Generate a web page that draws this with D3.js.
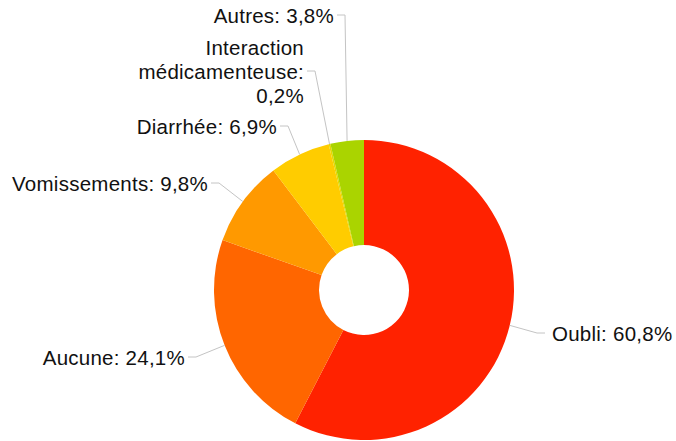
<!DOCTYPE html>
<html>
<head>
<meta charset="utf-8">
<script src="https://cdn.jsdelivr.net/npm/d3@7"></script>
<style>
  body { margin: 0; background: #fff; }
  svg { display: block; }
  .lbl { font-family: "Liberation Sans", Arial, sans-serif; font-size: 20.5px; letter-spacing: 0.25px; fill: #111; }
</style>
</head>
<body>
<div id="chart"></div>
<script>
// ---------------------------
// Données
// ---------------------------
const categories = ['Oubli', 'Aucune', 'Vomissements', 'Diarrhée', 'Interaction médicamenteuse', 'Autres'];
const values = [60.8, 24.1, 9.8, 6.9, 0.2, 3.8];
const valueLabels = ['60,8%', '24,1%', '9,8%', '6,9%', '0,2%', '3,8%'];
const colors = ['#ff2200', '#ff6600', '#ff9900', '#ffcc00', '#e6d800', '#aad400'];

// Position des étiquettes (bout du trait de rappel) et découpage du texte
const labelAnchors = [[545, 333], [188, 357], [211, 183], [280, 126], [307, 71], [337, 15]];
const labelLines = [
  ['Oubli: 60,8%'],
  ['Aucune: 24,1%'],
  ['Vomissements: 9,8%'],
  ['Diarrhée: 6,9%'],
  ['Interaction', 'médicamenteuse:', '0,2%'],
  ['Autres: 3,8%']
];

const width = 676, height = 441;
const cx = 364, cy = 290, outerR = 150, innerR = 45;

const svg = d3.select('#chart').append('svg')
  .attr('width', width)
  .attr('height', height);

const g = svg.append('g').attr('transform', `translate(${cx},${cy})`);

const pie = d3.pie().sort(null).value(d => d.value);
const arcs = pie(categories.map((c, i) => ({ name: c, value: values[i], i })));

const arc = d3.arc().innerRadius(innerR).outerRadius(outerR);

g.selectAll('path.slice')
  .data(arcs)
  .enter()
  .append('path')
  .attr('class', 'slice')
  .attr('d', arc)
  .attr('fill', d => colors[d.data.i]);

// ---------------------------
// Traits de rappel + étiquettes
// ---------------------------
arcs.forEach(d => {
  const mid = (d.startAngle + d.endAngle) / 2;
  const px = cx + outerR * Math.sin(mid);
  const py = cy - outerR * Math.cos(mid);
  const [lx, ly] = labelAnchors[d.data.i];
  const right = lx > cx;
  const ex = right ? lx - 8 : lx + 8;

  svg.append('polyline')
    .attr('points', `${px},${py} ${ex},${ly} ${lx},${ly}`)
    .attr('fill', 'none')
    .attr('stroke', '#c4c4c4')
    .attr('stroke-width', 1);

  const lines = labelLines[d.data.i];
  const text = svg.append('text')
    .attr('class', 'lbl')
    .attr('text-anchor', right ? 'start' : 'end');
  const x0 = right ? lx + 7 : lx - 3;
  const y0 = ly + 8 - (lines.length > 1 ? 24 : 0);
  lines.forEach((t, k) => {
    text.append('tspan')
      .attr('x', x0)
      .attr('y', y0 + k * 24)
      .text(t);
  });
});
</script>
</body>
</html>
